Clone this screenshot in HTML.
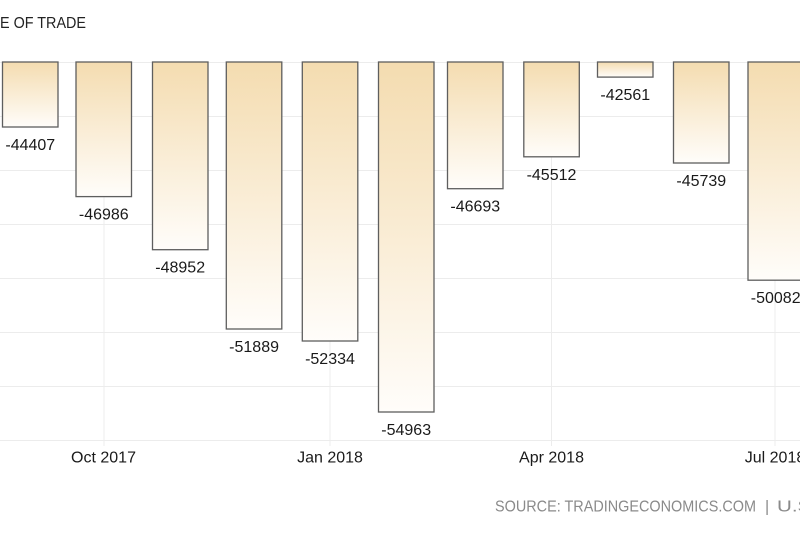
<!DOCTYPE html>
<html>
<head>
<meta charset="utf-8">
<style>
html,body{margin:0;padding:0;background:#fff;overflow:hidden;}
svg{display:block;}
text{font-family:"Liberation Sans",Arial,sans-serif;}
</style>
</head>
<body>
<svg width="800" height="534" viewBox="0 0 800 534" xmlns="http://www.w3.org/2000/svg">
<defs>
<linearGradient id="g" x1="0" y1="0" x2="0" y2="1">
<stop offset="0" stop-color="#f4dcb0"/>
<stop offset="1" stop-color="#fffdfa"/>
</linearGradient>
</defs>
<rect width="800" height="534" fill="#fff"/>
<!-- title -->
<text x="-1" y="28" font-size="16" fill="#222" text-anchor="end">UNITED STATES BALANC</text>
<text x="0" y="28" font-size="16" fill="#222" textLength="86" lengthAdjust="spacingAndGlyphs">E OF TRADE</text>
<!-- horizontal gridlines -->
<g stroke="#ececec" stroke-width="1">
<line x1="0" y1="62.5" x2="800" y2="62.5"/>
<line x1="0" y1="116.5" x2="800" y2="116.5"/>
<line x1="0" y1="170.5" x2="800" y2="170.5"/>
<line x1="0" y1="224.5" x2="800" y2="224.5"/>
<line x1="0" y1="278.5" x2="800" y2="278.5"/>
<line x1="0" y1="332.5" x2="800" y2="332.5"/>
<line x1="0" y1="386.5" x2="800" y2="386.5"/>
<line x1="0" y1="440.5" x2="800" y2="440.5"/>
</g>
<!-- vertical gridlines / ticks -->
<g stroke="#ececec" stroke-width="1">
<line x1="104" y1="62" x2="104" y2="446"/>
<line x1="330" y1="62" x2="330" y2="446"/>
<line x1="551.5" y1="62" x2="551.5" y2="446"/>
<line x1="775" y1="62" x2="775" y2="446"/>
</g>
<!-- bars -->
<g fill="url(#g)" stroke="#5e5e5e" stroke-width="1.3">
<rect x="2.5" y="62" width="55.5" height="65"/>
<rect x="76" y="62" width="55.5" height="134.6"/>
<rect x="152.5" y="62" width="55.5" height="187.7"/>
<rect x="226.3" y="62" width="55.5" height="267"/>
<rect x="302.3" y="62" width="55.5" height="279"/>
<rect x="378.5" y="62" width="55.5" height="350"/>
<rect x="447.5" y="62" width="55.5" height="126.7"/>
<rect x="523.8" y="62" width="55.5" height="94.8"/>
<rect x="597.5" y="62" width="55.5" height="15.1"/>
<rect x="673.5" y="62" width="55.5" height="101"/>
<rect x="748" y="62" width="55.5" height="218.2"/>
</g>
<!-- value labels -->
<g font-size="16" fill="#1a1a1a" text-anchor="middle">
<text x="30.3" y="150">-44407</text>
<text x="103.8" y="219.6">-46986</text>
<text x="180.2" y="272.7">-48952</text>
<text x="254.1" y="352">-51889</text>
<text x="330" y="364">-52334</text>
<text x="406.2" y="435">-54963</text>
<text x="475.3" y="211.7">-46693</text>
<text x="551.5" y="179.8">-45512</text>
<text x="625.3" y="100.1">-42561</text>
<text x="701.3" y="186">-45739</text>
<text x="775.7" y="303.2">-50082</text>
</g>
<!-- x axis labels -->
<g font-size="16" fill="#1a1a1a" text-anchor="middle">
<text x="103.5" y="462.5">Oct 2017</text>
<text x="330" y="462.5">Jan 2018</text>
<text x="551.5" y="462.5">Apr 2018</text>
<text x="775" y="462.5">Jul 2018</text>
</g>
<!-- source -->
<text x="495" y="511.5" font-size="16" fill="#8a8a8a" textLength="261" lengthAdjust="spacingAndGlyphs">SOURCE: TRADINGECONOMICS.COM</text>
<text x="765" y="511.5" font-size="16" fill="#8a8a8a">|</text>
<text x="777" y="511.5" font-size="16" fill="#8a8a8a" textLength="40" lengthAdjust="spacingAndGlyphs">U.S.</text>
</svg>
</body>
</html>
